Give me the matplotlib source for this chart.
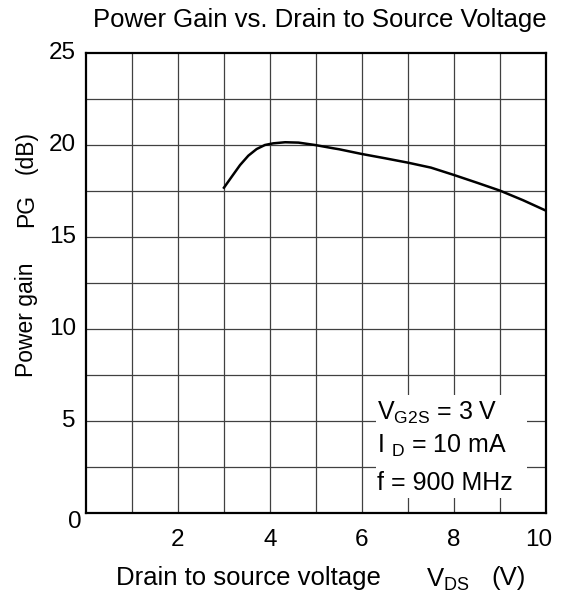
import matplotlib
matplotlib.use('Agg')
import matplotlib.pyplot as plt
from matplotlib.patches import Rectangle
import numpy as np

plt.rcParams['font.family'] = ['Liberation Sans', 'DejaVu Sans']
plt.rcParams['mathtext.fontset'] = 'custom'
plt.rcParams['mathtext.rm'] = 'Liberation Sans'
plt.rcParams['mathtext.it'] = 'Liberation Sans'

# Curve
vds = [3.0, 3.17, 3.35, 3.53, 3.71, 3.89, 4.07, 4.33, 4.62, 4.98, 5.38,
       5.5, 6.0, 6.5, 7.0, 7.5, 8.0, 8.5, 9.0, 9.5, 10.0]
pg = [17.68, 18.28, 18.91, 19.42, 19.78, 20.0, 20.09, 20.15, 20.13, 20.0, 19.82,
      19.77, 19.51, 19.28, 19.04, 18.77, 18.37, 17.95, 17.52, 17.0, 16.43]

x_ticks = [2, 4, 6, 8, 10]
y_ticks = [5, 10, 15, 20, 25]
conditions = ['$\\mathregular{V_{G2S}}$ = 3 V',
              'I $\\mathregular{_D}$ = 10 mA',
              'f = 900 MHz']

fig = plt.figure(figsize=(5.69, 5.99), dpi=100)
ax = fig.add_axes([0.151, 0.1436, 0.8086, 0.7679])

ax.set_xlim(0, 10)
ax.set_ylim(0, 25)

# grid
for xv in np.arange(1, 10):
    ax.axvline(xv, color='0.25', lw=0.9, zorder=1)
for yv in np.arange(2.5, 25, 2.5):
    ax.axhline(yv, color='0.25', lw=0.9, zorder=1)

ax.plot(vds, pg, color='black', lw=1.8, zorder=3)

for s in ax.spines.values():
    s.set_linewidth(1.6)
    s.set_color('black')

ax.set_xticks([])
ax.set_yticks([])

fs = 17.5
fl = 18.5
for xv in x_ticks:
    ax.text(xv - (0.15 if xv == 10 else 0), -1.45, str(xv),
            ha='center', va='center', fontsize=fs)
for yv in y_ticks:
    ax.text(-0.22, yv, str(yv), ha='right', va='center', fontsize=fs)
ax.text(-0.1, -0.5, '0', ha='right', va='center', fontsize=fs)

# conditions box
ax.add_patch(Rectangle((6.3, 0.82), 3.29, 5.59, facecolor='white',
                       edgecolor='none', zorder=2))
for yv, txt in zip([5.45, 3.64, 1.63], conditions):
    ax.text(6.33, yv, txt, ha='left', va='center', fontsize=fl - 0.5, zorder=4)

fig.text(0.562, 0.967, 'Power Gain vs. Drain to Source Voltage',
         ha='center', va='center', fontsize=fl)

fig.text(0.436, 0.035, 'Drain to source voltage', ha='center', va='center', fontsize=fl)
fig.text(0.787, 0.032, '$\\mathregular{V_{DS}}$', ha='center', va='center', fontsize=fl)
fig.text(0.893, 0.035, '(V)', ha='center', va='center', fontsize=fl)

fig.text(0.046, 0.466, 'Power gain', rotation=90, ha='center', va='center', fontsize=16.5)
fig.text(0.046, 0.649, 'PG', rotation=90, ha='center', va='center', fontsize=16.5)
fig.text(0.046, 0.745, '(dB)', rotation=90, ha='center', va='center', fontsize=16.5)

fig.savefig('out.png', dpi=100)
